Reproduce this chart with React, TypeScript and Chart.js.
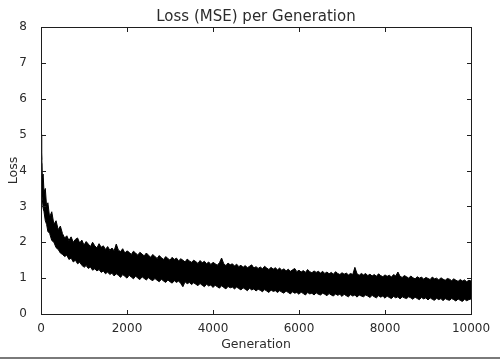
import { useEffect, useRef } from "react";
import { Chart, registerables } from "chart.js";

Chart.register(...registerables);

const FONT = '"DejaVu Sans", sans-serif';
const TEXT = "#2b2b2b";

const chartTitle = "Loss (MSE) per Generation";
const xAxisLabel = "Generation";
const yAxisLabel = "Loss";

const xTicks = [0, 2000, 4000, 6000, 8000, 10000];
const yTicks = [0, 1, 2, 3, 4, 5, 6, 7, 8];

const generations = [
  0, 10, 20, 30, 50, 70, 100, 130, 160, 200, 250, 300, 350, 400, 450,
  500, 550, 600, 650, 700, 750, 800, 850, 900, 950, 1000, 1050, 1100, 1150, 1200, 1250, 1300, 1350, 1400, 1450,
  1500, 1550, 1600, 1650, 1700, 1750, 1800, 1850, 1900, 1950, 2000, 2050, 2100, 2150, 2200, 2250, 2300, 2350, 2400, 2450,
  2500, 2550, 2600, 2650, 2700, 2750, 2800, 2850, 2900, 2950, 3000, 3050, 3100, 3150, 3200, 3250, 3300, 3350, 3400, 3450,
  3500, 3550, 3600, 3650, 3700, 3750, 3800, 3850, 3900, 3950, 4000, 4050, 4100, 4150, 4200, 4250, 4300, 4350, 4400, 4450,
  4500, 4550, 4600, 4650, 4700, 4750, 4800, 4850, 4900, 4950, 5000, 5050, 5100, 5150, 5200, 5250, 5300, 5350, 5400, 5450,
  5500, 5550, 5600, 5650, 5700, 5750, 5800, 5850, 5900, 5950, 6000, 6050, 6100, 6150, 6200, 6250, 6300, 6350, 6400, 6450,
  6500, 6550, 6600, 6650, 6700, 6750, 6800, 6850, 6900, 6950, 7000, 7050, 7100, 7150, 7200, 7250, 7300, 7350, 7400, 7450,
  7500, 7550, 7600, 7650, 7700, 7750, 7800, 7850, 7900, 7950, 8000, 8050, 8100, 8150, 8200, 8250, 8300, 8350, 8400, 8450,
  8500, 8550, 8600, 8650, 8700, 8750, 8800, 8850, 8900, 8950, 9000, 9050, 9100, 9150, 9200, 9250, 9300, 9350, 9400, 9450,
  9500, 9550, 9600, 9650, 9700, 9750, 9800, 9850, 9900, 9950, 10000,
];

// upper edge of the noisy loss band
const lossUpper = [
  5.0, 4.3, 4.5, 3.8, 3.9, 3.4, 3.5, 3.0, 3.1, 2.7, 2.85, 2.5, 2.6, 2.35, 2.45,
  2.24, 2.12, 2.18, 2.05, 2.15, 2.0, 2.08, 2.12, 1.98, 2.06, 1.92, 2.02, 1.95, 1.88, 2.0, 1.9, 1.84, 1.96, 1.86, 1.9,
  1.8, 1.88, 1.78, 1.84, 1.76, 1.95, 1.78, 1.74, 1.82, 1.7, 1.76, 1.72, 1.66, 1.75, 1.7, 1.64, 1.72, 1.67, 1.62, 1.7,
  1.64, 1.58, 1.66, 1.6, 1.55, 1.63, 1.57, 1.52, 1.6, 1.55, 1.5, 1.58, 1.52, 1.56, 1.48, 1.54, 1.5, 1.45, 1.53, 1.48,
  1.44, 1.5, 1.46, 1.41, 1.49, 1.43, 1.47, 1.4, 1.45, 1.38, 1.44, 1.4, 1.36, 1.43, 1.56, 1.4, 1.35, 1.42, 1.37, 1.4,
  1.34, 1.39, 1.32, 1.36, 1.3, 1.35, 1.29, 1.33, 1.37, 1.28, 1.32, 1.27, 1.31, 1.26, 1.33, 1.28, 1.24, 1.3, 1.25, 1.29,
  1.23, 1.28, 1.22, 1.26, 1.2, 1.25, 1.19, 1.23, 1.27, 1.18, 1.22, 1.17, 1.21, 1.16, 1.24, 1.18, 1.15, 1.2, 1.16, 1.19,
  1.14, 1.19, 1.13, 1.17, 1.12, 1.16, 1.11, 1.18, 1.13, 1.1, 1.15, 1.11, 1.14, 1.09, 1.13, 1.1, 1.3, 1.12, 1.08, 1.13,
  1.09, 1.13, 1.07, 1.11, 1.06, 1.1, 1.05, 1.12, 1.07, 1.04, 1.09, 1.05, 1.08, 1.03, 1.1, 1.06, 1.17, 1.05, 1.02, 1.07,
  1.04, 1.0, 1.06, 1.01, 0.98, 1.04, 1.0, 1.03, 0.97, 1.02, 0.99, 0.96, 1.03, 0.98, 1.0, 0.95, 1.01, 0.97, 0.94, 0.99,
  0.97, 0.93, 0.98, 0.94, 0.91, 0.96, 0.92, 0.95, 0.9, 0.94, 0.92,
];

// lower edge of the noisy loss band
const lossLower = [
  4.2, 3.6, 3.4, 3.2, 2.95, 2.85, 2.6, 2.5, 2.3, 2.25, 2.05, 2.0, 1.85, 1.8, 1.7,
  1.66, 1.6, 1.64, 1.52, 1.56, 1.45, 1.5, 1.4, 1.44, 1.36, 1.3, 1.35, 1.27, 1.31, 1.22, 1.26, 1.2, 1.24, 1.16, 1.2,
  1.12, 1.17, 1.1, 1.14, 1.06, 1.12, 1.08, 1.02, 1.1, 1.05, 1.0, 1.08, 1.03, 0.98, 1.06, 1.0, 0.96, 1.04, 0.99, 0.95,
  1.01, 0.96, 0.93, 0.99, 0.94, 0.9, 0.97, 0.92, 0.88, 0.95, 0.9, 0.86, 0.93, 0.88, 0.92, 0.85, 0.76, 0.9, 0.84, 0.88,
  0.82, 0.87, 0.83, 0.79, 0.85, 0.8, 0.76, 0.83, 0.78, 0.81, 0.74, 0.8, 0.76, 0.72, 0.79, 0.74, 0.7, 0.77, 0.73, 0.75,
  0.7, 0.75, 0.71, 0.67, 0.73, 0.69, 0.65, 0.72, 0.67, 0.7, 0.64, 0.69, 0.66, 0.62, 0.68, 0.64, 0.6, 0.67, 0.63, 0.65,
  0.6, 0.65, 0.61, 0.58, 0.64, 0.6, 0.56, 0.62, 0.58, 0.6, 0.55, 0.61, 0.57, 0.53, 0.6, 0.56, 0.58, 0.53, 0.59, 0.55,
  0.53, 0.58, 0.55, 0.51, 0.57, 0.53, 0.5, 0.56, 0.52, 0.55, 0.49, 0.55, 0.51, 0.48, 0.54, 0.5, 0.53, 0.47, 0.53, 0.5,
  0.48, 0.53, 0.5, 0.46, 0.52, 0.48, 0.45, 0.51, 0.47, 0.5, 0.44, 0.5, 0.46, 0.43, 0.49, 0.45, 0.48, 0.42, 0.48, 0.45,
  0.43, 0.48, 0.45, 0.41, 0.47, 0.43, 0.4, 0.46, 0.42, 0.45, 0.39, 0.45, 0.41, 0.38, 0.44, 0.4, 0.43, 0.37, 0.43, 0.4,
  0.38, 0.43, 0.4, 0.36, 0.42, 0.38, 0.35, 0.41, 0.37, 0.4, 0.42,
];

const mplFrame = {
  id: "mplFrame",
  afterDraw(chart: any) {
    const { ctx, chartArea: a, scales } = chart;
    const xs = scales.x;
    const ys = scales.y;
    const L = Math.round(a.left);
    const R = Math.round(a.right);
    const T = Math.round(a.top);
    const B = Math.round(a.bottom);
    ctx.save();
    ctx.fillStyle = "#1e1e1e";
    // frame
    ctx.fillRect(L, T, R - L + 1, 1);
    ctx.fillRect(L, B, R - L + 1, 1);
    ctx.fillRect(L, T, 1, B - T + 1);
    ctx.fillRect(R, T, 1, B - T + 1);
    // inward ticks on all four sides
    for (const t of xTicks) {
      const px = Math.round(xs.getPixelForValue(t));
      ctx.fillRect(px, B - 4, 1, 4);
      ctx.fillRect(px, T + 1, 1, 4);
    }
    for (const t of yTicks) {
      const py = Math.round(ys.getPixelForValue(t));
      ctx.fillRect(L + 1, py, 4, 1);
      ctx.fillRect(R - 4, py, 4, 1);
    }

    ctx.fillStyle = TEXT;
    ctx.textAlign = "center";
    ctx.textBaseline = "alphabetic";
    ctx.font = `15px ${FONT}`;
    ctx.fillText(chartTitle, (a.left + a.right) / 2, 21);
    ctx.font = `12.5px ${FONT}`;
    ctx.fillText(xAxisLabel, (a.left + a.right) / 2, 348);
    ctx.save();
    ctx.translate(17, (a.top + a.bottom) / 2);
    ctx.rotate(-Math.PI / 2);
    ctx.fillText(yAxisLabel, 0, 0);
    ctx.restore();

    ctx.fillStyle = "#7a7a7a";
    ctx.fillRect(0, 357, 500, 2);
    ctx.restore();
  },
};

export default function App() {
  const ref = useRef<HTMLCanvasElement | null>(null);
  useEffect(() => {
    document.body.style.margin = "0";
    const canvas = ref.current;
    if (!canvas) return;
    const upperPts = generations.map((g, i) => ({ x: g, y: lossUpper[i] }));
    const lowerPts = generations.map((g, i) => ({ x: g, y: lossLower[i] }));
    const chart = new Chart(canvas, {
      type: "line",
      data: {
        datasets: [
          {
            data: upperPts,
            borderColor: "#000",
            borderWidth: 1,
            pointRadius: 0,
            fill: false,
            tension: 0,
          },
          {
            data: lowerPts,
            borderColor: "#000",
            backgroundColor: "#000",
            borderWidth: 1,
            pointRadius: 0,
            fill: "-1",
            tension: 0,
          },
        ],
      },
      options: {
        animation: false,
        responsive: false,
        events: [],
        layout: { padding: { top: 27, right: 29, left: 0, bottom: 0 } },
        plugins: {
          legend: { display: false },
          tooltip: { enabled: false },
          title: { display: false },
        },
        scales: {
          x: {
            type: "linear",
            min: 0,
            max: 10000,
            grid: { display: false },
            border: { display: false },
            afterFit: (s: any) => {
              s.height = 47;
            },
            afterBuildTicks: (s: any) => {
              s.ticks = xTicks.map((v) => ({ value: v }));
            },
            ticks: {
              color: TEXT,
              font: { family: FONT, size: 12 },
              padding: 0,
              maxRotation: 0,
              autoSkip: false,
              callback: (v: any) => String(v),
            },
          },
          y: {
            type: "linear",
            min: 0,
            max: 8,
            grid: { display: false },
            border: { display: false },
            afterFit: (s: any) => {
              s.width = 41;
            },
            afterBuildTicks: (s: any) => {
              s.ticks = yTicks.map((v) => ({ value: v }));
            },
            ticks: {
              color: TEXT,
              font: { family: FONT, size: 12 },
              padding: 6,
              autoSkip: false,
              callback: (v: any) => String(v),
            },
          },
        },
      },
      plugins: [mplFrame],
    });
    return () => chart.destroy();
  }, []);
  return (
    <div style={{ width: 500, height: 361, background: "#fff" }}>
      <canvas ref={ref} width={500} height={361} style={{ display: "block" }} />
    </div>
  );
}
